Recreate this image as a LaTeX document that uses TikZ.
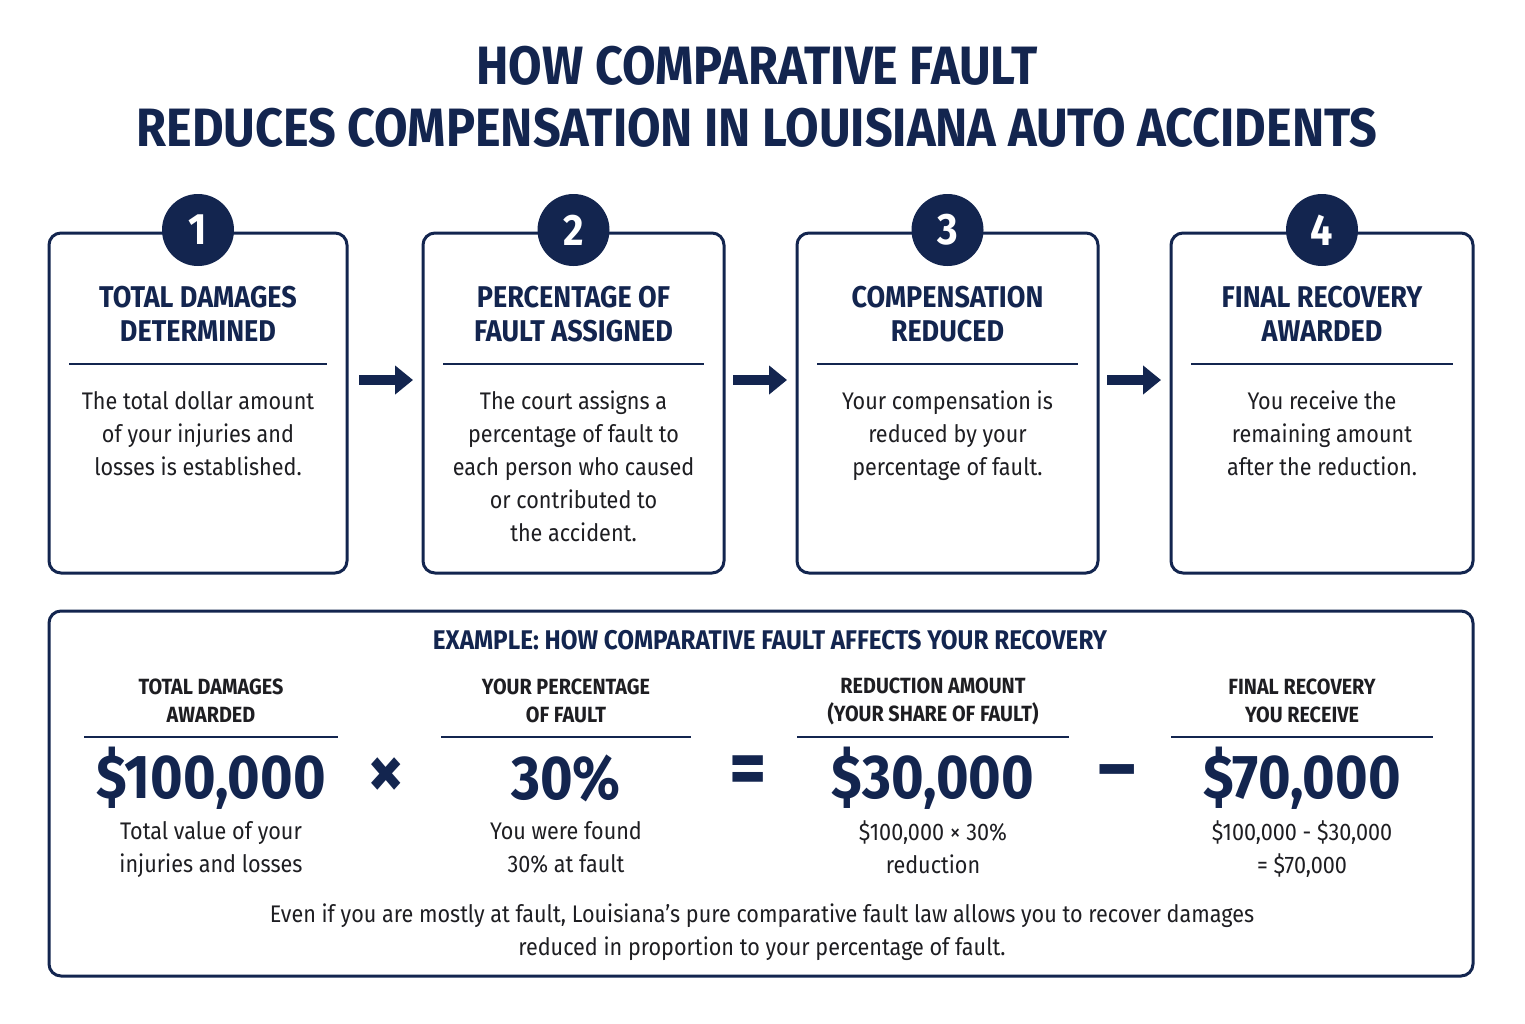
\documentclass[tikz,border=0pt]{standalone}
\usepackage{fontspec}
\setmainfont{Fira Sans}[FakeStretch=0.9]
\newfontfamily\headfont{Fira Sans}[FakeStretch=0.9,UprightFont=* SemiBold,BoldFont=* Bold]
\usetikzlibrary{positioning}
\usetikzlibrary{arrows.meta}
\definecolor{navy}{HTML}{13254F}
\definecolor{ink}{HTML}{1E1E22}
\tikzset{
  box/.style={draw=navy,line width=1.5pt,rounded corners=6pt},
  badge/.style={circle,fill=navy,minimum size=36pt,inner sep=0pt,text=white,font=\headfont\bfseries\fontsize{22}{22}\selectfont},
  head/.style={align=center,text=navy,font=\headfont\bfseries\fontsize{15}{17}\selectfont},
  body/.style={align=center,text=ink,font=\fontsize{12}{16.5}\selectfont},
  colhead/.style={align=center,text=ink,font=\headfont\bfseries\fontsize{11}{14}\selectfont},
  big/.style={text=navy,font=\headfont\bfseries\fontsize{31}{31}\selectfont},
  oper/.style={text=navy,font=\headfont\bfseries\fontsize{40}{40}\selectfont},
  rule/.style={draw=navy,line width=1.1pt},
  flow/.style={line width=5pt,draw=navy,-{Triangle[length=9pt,width=14pt]}}
}
\begin{document}
\begin{tikzpicture}[x=0.5pt,y=-0.5pt]
\useasboundingbox[fill=white] (0,0) rectangle (1525,1023);
% title
\node[text=navy,font=\headfont\bfseries\fontsize{27}{31}\selectfont,align=center] (title) at (757,97)
  {HOW COMPARATIVE FAULT\\REDUCES COMPENSATION IN LOUISIANA AUTO ACCIDENTS};
% step boxes
\foreach \n/\xa/\xb/\hd/\tx in {
  1/49/347/{TOTAL DAMAGES\\DETERMINED}/{The total dollar amount\\of your injuries and\\losses is established.},
  2/423/724/{PERCENTAGE OF\\FAULT ASSIGNED}/{The court assigns a\\percentage of fault to\\each person who caused\\or contributed to\\the accident.},
  3/797/1098/{COMPENSATION\\REDUCED}/{Your compensation is\\reduced by your\\percentage of fault.},
  4/1171/1473/{FINAL RECOVERY\\AWARDED}/{You receive the\\remaining amount\\after the reduction.}}{
  \draw[box] (\xa,233) rectangle (\xb,573);
  \node[badge] (b\n) at ({(\xa+\xb)/2},230) {\n};
  \node[head] (h\n) at ({(\xa+\xb)/2},314) {\hd};
  \draw[rule] (\xa+20,364) -- (\xb-20,364);
  \node[body,anchor=north] (t\n) at ({(\xa+\xb)/2},384) {\tx};
}
\coordinate (a1s) at (359,380); \coordinate (a1e) at (413,380);
\coordinate (a2s) at (733,380); \coordinate (a2e) at (787,380);
\coordinate (a3s) at (1107,380); \coordinate (a3e) at (1161,380);
\draw[flow] (a1s) -- (a1e);
\draw[flow] (a2s) -- (a2e);
\draw[flow] (a3s) -- (a3e);
% example panel
\draw[box] (49,611) rectangle (1473,976);
\node[text=navy,font=\headfont\bfseries\fontsize{13.5}{15}\selectfont] (extitle) at (770,640)
  {EXAMPLE: HOW COMPARATIVE FAULT AFFECTS YOUR RECOVERY};
\foreach \n/\xa/\xb/\hd/\val/\tx in {
  1/84/338/{TOTAL DAMAGES\\AWARDED}/{\$100,000}/{Total value of your\\injuries and losses},
  2/441/691/{YOUR PERCENTAGE\\OF FAULT}/{30\%}/{You were found\\30\% at fault},
  3/797/1069/{REDUCTION AMOUNT\\(YOUR SHARE OF FAULT)}/{\$30,000}/{\$100,000 × 30\%\\reduction},
  4/1171/1433/{FINAL RECOVERY\\YOU RECEIVE}/{\$70,000}/{\$100,000 - \$30,000\\= \$70,000}}{
  \node[colhead] (ch\n) at ({(\xa+\xb)/2},701) {\hd};
  \draw[rule] (\xa,737) -- (\xb,737);
  \node[big] (v\n) at ({(\xa+\xb)/2},778) {\val};
  \node[body,anchor=north] (d\n) at ({(\xa+\xb)/2},814) {\tx};
}
\node[oper] (times) at (386,778) {×};
\node[oper] (equals) at (748,776) {=};
\node[oper] (minus) at (1117,780) {–};
\node[body] (note) at (762,932) {Even if you are mostly at fault, Louisiana’s pure comparative fault law allows you to recover damages\\reduced in proportion to your percentage of fault.};
\end{tikzpicture}
\end{document}
